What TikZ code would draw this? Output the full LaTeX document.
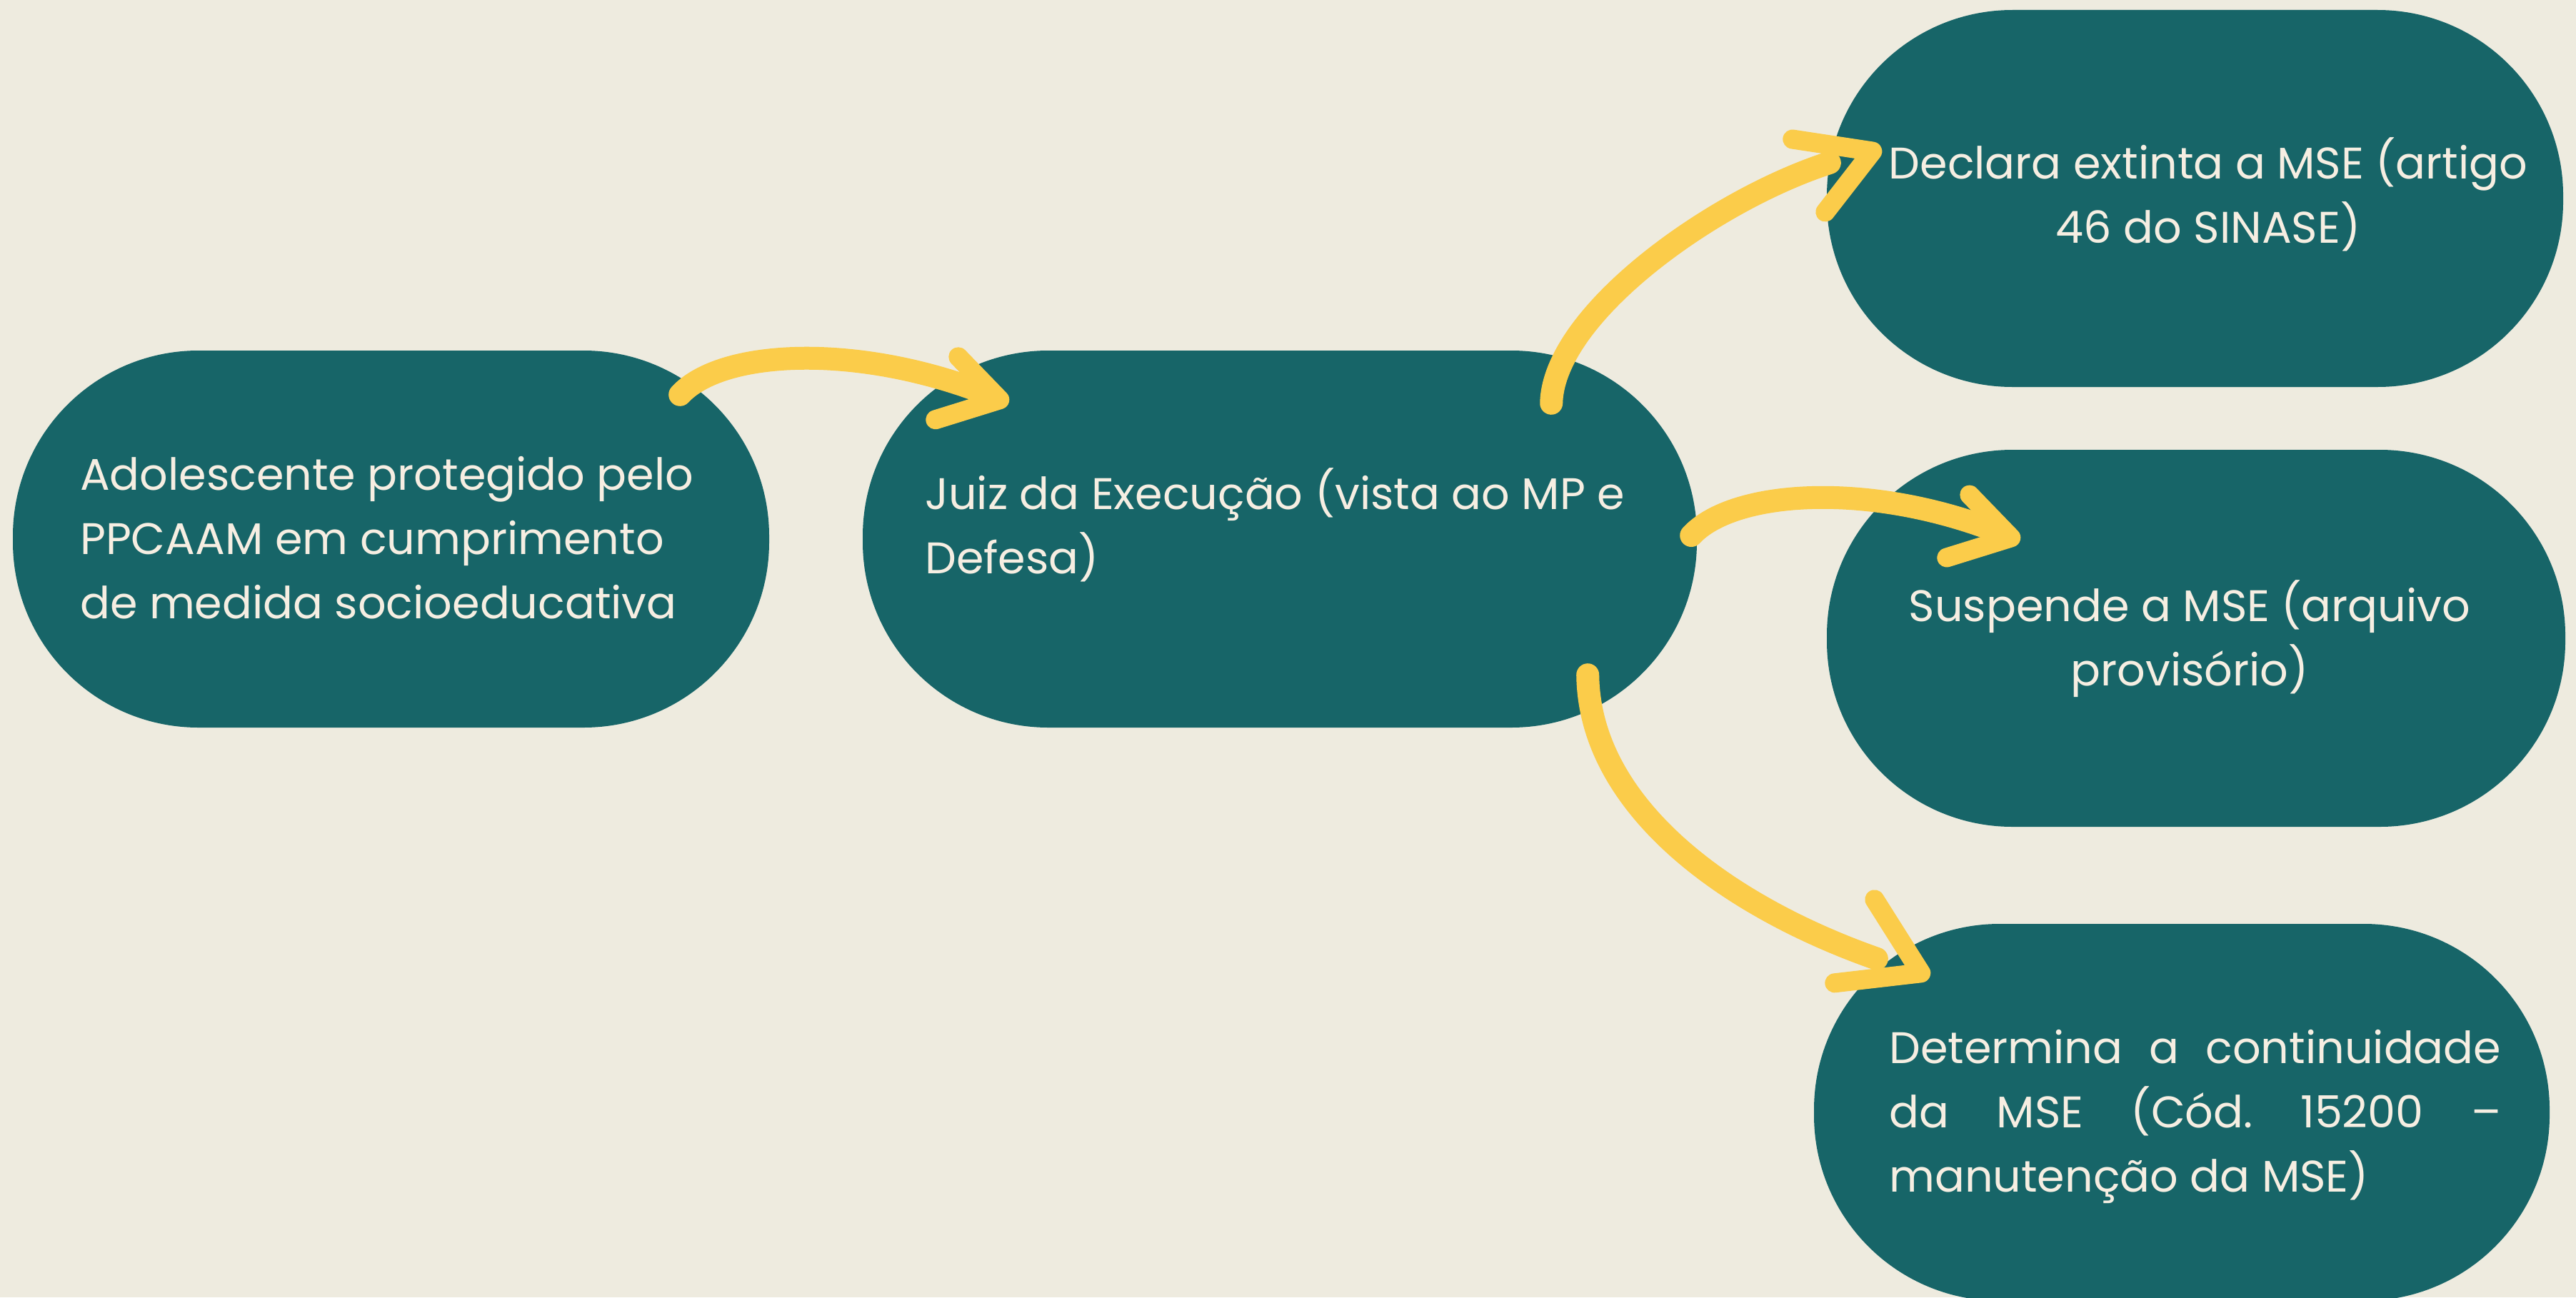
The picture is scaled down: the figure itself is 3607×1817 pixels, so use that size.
\documentclass[tikz,border=0pt]{standalone}
\usepackage{fontspec}
\setmainfont{Poppins}
\usetikzlibrary{calc}
\definecolor{bgc}{HTML}{EEEBDF}
\definecolor{tealbox}{HTML}{176568}
\definecolor{brush}{HTML}{FBCC4A}
\definecolor{txtc}{HTML}{F6EEE2}
\frenchspacing
\begin{document}
\begin{tikzpicture}[x=1pt,y=-1pt,
  box/.style={rectangle, fill=tealbox, rounded corners=260pt, inner sep=0pt, minimum width=#1, minimum height=528pt},
  lbl/.style={text=txtc, font=\fontsize{62}{90}\selectfont, inner sep=0pt},
  shaft/.style={draw=brush, line width=32pt, line cap=round},
  head/.style={draw=brush, line width=27pt, line cap=round, line join=round}]
\useasboundingbox (0,0) rectangle (3607,1817);
\clip (0,0) rectangle (3607,1817);
\fill[bgc] (0,0) rectangle (3607,1817);

% boxes
\node[box=1059pt] (n1) at (547.5,755) {};
\node[box=1168pt] (n2) at (1792,755) {};
\node[box=1031pt] (n3) at (3073.5,278) {};
\node[box=1034pt] (n4) at (3075,894) {};
\node[box=1030pt] (n5) at (3055,1558) {};

% texts (anchor = baseline of last line)
\node[lbl, anchor=base west, align=left] (t1) at (112,866)
  {Adolescente protegido pelo\\PPCAAM em cumprimento\\de medida socioeducativa};
\node[lbl, anchor=base west, align=left] (t2) at (1295,803)
  {Juiz da Execução (vista ao MP e\\Defesa)};
\node[lbl, anchor=base, align=center] (t3) at (3092,340)
  {Declara extinta a MSE (artigo\\46 do SINASE)};
\node[lbl, anchor=base, align=center] (t4) at (3066,960)
  {Suspende a MSE (arquivo\\provisório)};
\node[lbl, anchor=base west, align=left] (t5) at (2645,1669)
  {\makebox[857pt][s]{Determina a continuidade}\\\makebox[857pt][s]{da MSE (Cód. 15200 –}\\manutenção da MSE)};

% arrow 1: n1 -> n2
\coordinate (a1t) at ($(n1.north east)+(-125,62)$);
\coordinate (a1h) at ($(n2.north west)+(192,69)$);
\draw[shaft] (a1t) .. controls +(58,-63) and +(-185,-73) .. ($(a1h)+(-15,-7)$);
\draw[head] ($(a1h)+(-58,-60)$) -- (a1h) -- ($(a1h)+(-90,28)$);

% arrow 2: n2 -> n3
\coordinate (a2t) at ($(n2.north east)+(-204,74)$);
\coordinate (a2h) at ($(n3.west)+(64,-66)$);
\draw[shaft] (a2t) .. controls +(3,-125) and +(-162,52) .. ($(a2h)+(-60,16)$);
\draw[head] ($(a2h)+(-112,-17)$) -- (a2h) -- ($(a2h)+(-66,85)$);

% arrow 3: n2 -> n4
\coordinate (a3t) at ($(n2.east)+(-8,-5)$);
\coordinate (a3h) at ($(n4.west)+(258,-141)$);
\draw[shaft] (a3t) .. controls +(58,-63) and +(-185,-73) .. ($(a3h)+(-15,-7)$);
\draw[head] ($(a3h)+(-58,-60)$) -- (a3h) -- ($(a3h)+(-90,28)$);

% arrow 4: n2 -> n5
\coordinate (a4t) at ($(n2.south east)+(-153,-74)$);
\coordinate (a4h) at ($(n5.north west)+(150,69)$);
\draw[shaft] (a4t) .. controls +(2,185) and +(-208,-73) .. ($(a4h)+(-62,-20)$);
\draw[head] ($(a4h)+(-65,-103)$) -- (a4h) -- ($(a4h)+(-121,14)$);
\end{tikzpicture}
\end{document}
